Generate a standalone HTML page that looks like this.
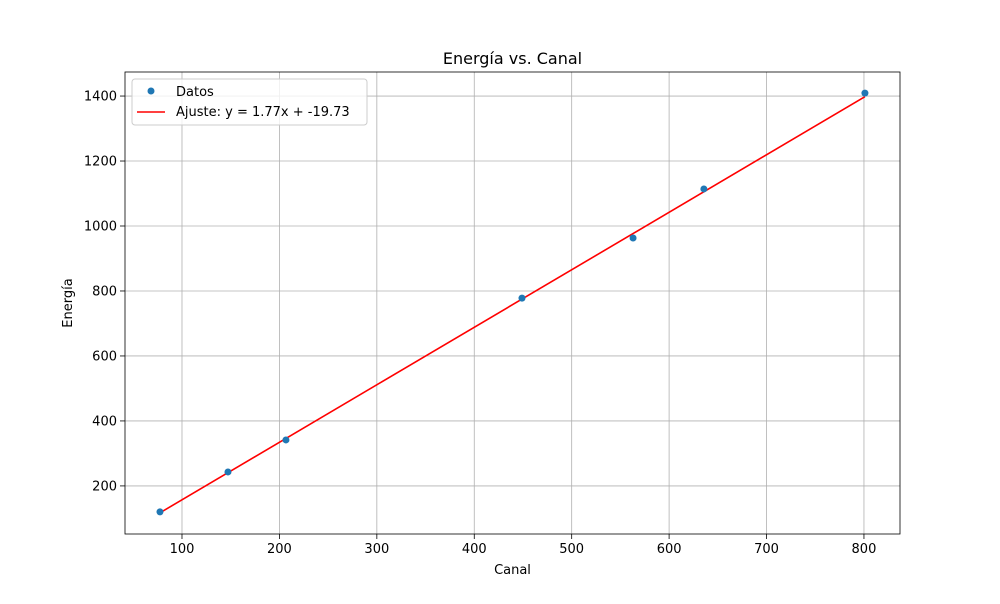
<!DOCTYPE html>
<html><head><meta charset="utf-8"><style>
body{margin:0;background:#fff;font-family:"DejaVu Sans","Liberation Sans",sans-serif;}
</style></head><body>
<svg id="chart" width="1000" height="600" xmlns="http://www.w3.org/2000/svg"></svg>
<script>
const xValues=[77.4,147.2,206.7,449,563,635.7,801];
const yValues=[120,243,341.5,778,963,1114,1409];
const slope=1.77, intercept=-19.73;
const xTicks=[100,200,300,400,500,600,700,800];
const yTicks=[200,400,600,800,1000,1200,1400];
const L=125,R=900,T=72,B=534;
const xmin=41.5,xmax=837,ymin=52,ymax=1474;
const sx=v=>L+(v-xmin)/(xmax-xmin)*(R-L);
const sy=v=>B-(v-ymin)/(ymax-ymin)*(B-T);
const svg=document.getElementById('chart');
const NS='http://www.w3.org/2000/svg';
function mk(t,a,txt){const e=document.createElementNS(NS,t);for(const k in a)e.setAttribute(k,a[k]);if(txt!==undefined)e.textContent=txt;svg.appendChild(e);return e;}
xTicks.forEach(v=>{
 const g=mk('line',{x1:sx(v),x2:sx(v),y1:T,y2:B,stroke:'#b0b0b0','stroke-width':0.8});
 
 
 const t=mk('line',{x1:sx(v),x2:sx(v),y1:B,y2:B+5,stroke:'#000','stroke-width':0.8});
 
 
 const l=mk('text',{x:sx(v),y:B+19,'text-anchor':'middle','font-size':13},v);
 
 
});
yTicks.forEach(v=>{
 const g=mk('line',{x1:L,x2:R,y1:sy(v),y2:sy(v),stroke:'#b0b0b0','stroke-width':0.8});
 
 
 const t=mk('line',{x1:L-5,x2:L,y1:sy(v),y2:sy(v),stroke:'#000','stroke-width':0.8});
 
 
 const l=mk('text',{x:L-8,y:sy(v)+4.5,'text-anchor':'end','font-size':13},v);
 
 
});
const x0=Math.min(...xValues),x1=Math.max(...xValues);
const fit=mk('line',{x1:sx(x0),y1:sy(slope*x0+intercept),x2:sx(x1),y2:sy(slope*x1+intercept),stroke:'#ff0000','stroke-width':1.6});


xValues.forEach((v,i)=>{
 const c=mk('circle',{cx:sx(v),cy:sy(yValues[i]),r:3.5,fill:'#1f77b4'});
 
 
});
const frame=mk('rect',{x:L,y:T,width:R-L,height:B-T,fill:'none',stroke:'#000','stroke-width':0.8});


const title=mk('text',{x:(L+R)/2,y:64,'text-anchor':'middle','font-size':16},'Energía vs. Canal');


const xt=mk('text',{x:(L+R)/2,y:574,'text-anchor':'middle','font-size':13},'Canal');


const yt=mk('text',{x:72,y:(T+B)/2,'text-anchor':'middle','font-size':13,transform:`rotate(-90 72 ${(T+B)/2})`},'Energía');


const lg=mk('rect',{x:132,y:79,width:235,height:46,rx:3,fill:'#fff','fill-opacity':0.8,stroke:'#ccc'});


const lc=mk('circle',{cx:151,cy:91,r:3.5,fill:'#1f77b4'});


const lt1=mk('text',{x:176,y:96,'font-size':13},'Datos');


const ll=mk('line',{x1:137,x2:165,y1:112,y2:112,stroke:'#ff0000','stroke-width':1.6});


const lt2=mk('text',{x:176,y:116,'font-size':13},'Ajuste: y = 1.77x + -19.73');


</script>
</body></html>
